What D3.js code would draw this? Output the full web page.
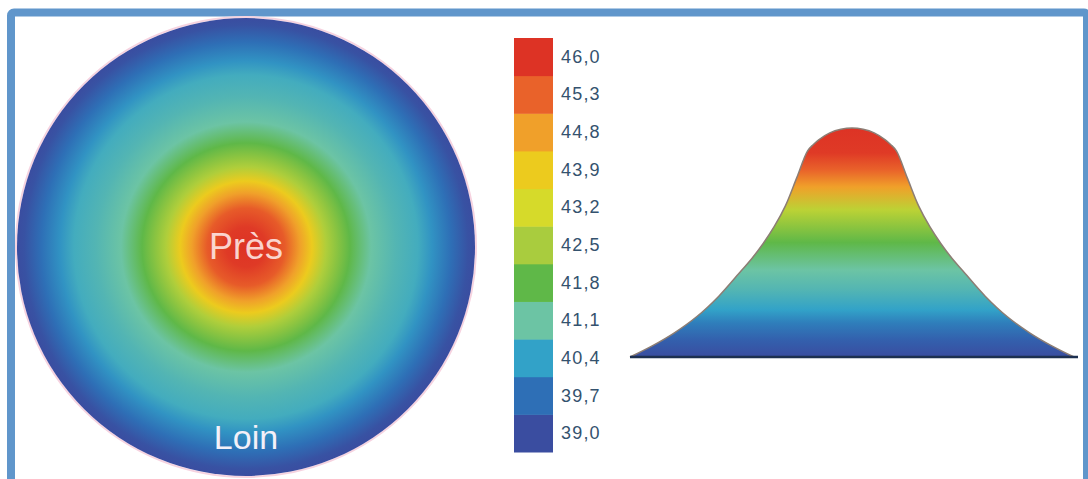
<!DOCTYPE html>
<html>
<head>
<meta charset="utf-8">
<script src="https://cdn.jsdelivr.net/npm/d3@7"></script>
<style>
    body { margin: 0; background: #fff; }
    svg { display: block; font-family: 'Liberation Sans', Arial, sans-serif; }
</style>
</head>
<body>
<div id="chart"></div>
<script>
// legend levels (bottom to top) and their colours
var levels = [39.0, 39.7, 40.4, 41.1, 41.8, 42.5, 43.2, 43.9, 44.8, 45.3, 46.0];
var levelColors = [
    '#3a4da0',
    '#2e6fb6',
    '#32a2c8',
    '#6cc4a4',
    '#5fb848',
    '#a9cc3e',
    '#d6da2a',
    '#eccb1e',
    '#f0a02a',
    '#e9622a',
    '#dd3325'
];
var levelLabels = ['39,0', '39,7', '40,4', '41,1', '41,8', '42,5', '43,2', '43,9', '44,8', '45,3', '46,0'];

// top view: distance from centre (0 = centre, 1 = rim) -> level
var ringPos = [0, 0.087, 0.17, 0.236, 0.288, 0.35, 0.454, 0.546, 0.655, 0.751, 0.812, 0.895, 0.969, 1];
var ringLevel = [46.0, 45.9, 45.4, 44.8, 43.9, 42.6, 41.8, 41.1, 40.8, 40.6, 40.2, 39.7, 39.1, 38.9];

// side profile: position across the lens -> height
var profilePos = [-1, -0.9, -0.8, -0.7, -0.6, -0.5, -0.45, -0.4, -0.35, -0.3, -0.25, -0.2, -0.175, -0.15, -0.1, -0.05, 0,
    0.05, 0.1, 0.15, 0.175, 0.2, 0.25, 0.3, 0.35, 0.4, 0.45, 0.5, 0.6, 0.7, 0.8, 0.9, 1];
var profileVal = [39.0, 39.34, 39.74, 40.23, 40.86, 41.63, 42.02, 42.47, 42.99, 43.62, 44.46, 45.3, 45.49, 45.64, 45.85, 45.96, 46.0,
    45.96, 45.85, 45.64, 45.49, 45.3, 44.46, 43.62, 42.99, 42.47, 42.02, 41.63, 40.86, 40.23, 39.74, 39.34, 39.0];

// shading of the profile: height -> level colour
var shadeHeight = [46.0, 45.24, 44.72, 44.2, 43.5, 42.5, 41.66, 41.05, 40.44, 40.04, 39.52, 39.0];
var shadeLevel = [46.0, 45.9, 45.3, 44.8, 42.8, 41.8, 41.1, 40.8, 40.4, 39.9, 39.4, 39.0];

var W = 1088,
    H = 479;

var color = d3.scaleLinear().domain(levels).range(levelColors).clamp(true);

var svg = d3
    .select('#chart')
    .append('svg')
    .attr('width', W)
    .attr('height', H);

var defs = svg.append('defs');

// frame
svg.append('rect')
    .attr('x', 11)
    .attr('y', 12.5)
    .attr('width', 1076)
    .attr('height', 500)
    .attr('rx', 3)
    .attr('fill', '#fff')
    .attr('stroke', '#6096cb')
    .attr('stroke-width', 8);

// ---- top view disc ----
var cx = 246,
    cy = 247,
    R = 229;
var rScale = d3.scaleLinear().domain([0, 1]).range([0, R]);

var radial = defs
    .append('radialGradient')
    .attr('id', 'disc')
    .attr('gradientUnits', 'userSpaceOnUse')
    .attr('cx', cx)
    .attr('cy', cy)
    .attr('r', R);

radial
    .selectAll('stop')
    .data(ringPos)
    .enter()
    .append('stop')
    .attr('offset', d => rScale(d) / R)
    .attr('stop-color', (d, i) => color(ringLevel[i]));

svg.append('circle')
    .attr('cx', cx)
    .attr('cy', cy)
    .attr('r', R + 1)
    .attr('fill', 'none')
    .attr('stroke', '#f6d3e0')
    .attr('stroke-width', 2);

svg.append('circle')
    .attr('cx', cx)
    .attr('cy', cy)
    .attr('r', R)
    .attr('fill', 'url(#disc)');

svg.append('text')
    .attr('x', cx)
    .attr('y', cy + 12)
    .attr('text-anchor', 'middle')
    .attr('font-size', 36)
    .attr('fill', '#fff0ee')
    .attr('fill-opacity', 0.85)
    .text('Près');

svg.append('text')
    .attr('x', cx)
    .attr('y', 449)
    .attr('text-anchor', 'middle')
    .attr('font-size', 34)
    .attr('fill', '#f4f0f8')
    .text('Loin');

// ---- legend ----
var band = d3
    .scaleBand()
    .domain(levelLabels.slice().reverse())
    .range([38, 452]);

var legend = svg.append('g');

legend
    .selectAll('rect')
    .data(levels)
    .enter()
    .append('rect')
    .attr('x', 514)
    .attr('y', (d, i) => band(levelLabels[i]))
    .attr('width', 39)
    .attr('height', band.bandwidth() + 0.5)
    .attr('fill', (d, i) => levelColors[i]);

legend
    .selectAll('text')
    .data(levelLabels)
    .enter()
    .append('text')
    .attr('x', 561)
    .attr('y', d => band(d) + band.bandwidth() / 2 + 6)
    .attr('font-size', 18)
    .attr('letter-spacing', 1.2)
    .attr('fill', '#34526e')
    .text(d => d);

// ---- side profile ----
var x = d3.scaleLinear().domain([-1, 1]).range([630, 1074]);
var y = d3.scaleLinear().domain([39, 46]).range([357, 128]);

var vertical = defs
    .append('linearGradient')
    .attr('id', 'bell')
    .attr('gradientUnits', 'userSpaceOnUse')
    .attr('x1', 0)
    .attr('x2', 0)
    .attr('y1', y(46))
    .attr('y2', y(39));

vertical
    .selectAll('stop')
    .data(shadeHeight)
    .enter()
    .append('stop')
    .attr('offset', d => (y(d) - y(46)) / (y(39) - y(46)))
    .attr('stop-color', (d, i) => color(shadeLevel[i]));

var profile = profilePos.map((p, i) => ({ p: p, v: profileVal[i] }));

var area = d3
    .area()
    .x(d => x(d.p))
    .y0(y(39))
    .y1(d => y(d.v))
    .curve(d3.curveCatmullRom.alpha(0.5));

var line = d3
    .line()
    .x(d => x(d.p))
    .y(d => y(d.v))
    .curve(d3.curveCatmullRom.alpha(0.5));

svg.append('path')
    .datum(profile)
    .attr('d', area)
    .attr('fill', 'url(#bell)');

svg.append('path')
    .datum(profile)
    .attr('d', line)
    .attr('fill', 'none')
    .attr('stroke', '#8c7d74')
    .attr('stroke-width', 1.5);

svg.append('line')
    .attr('x1', x(-1))
    .attr('x2', x(1) + 4)
    .attr('y1', y(39))
    .attr('y2', y(39))
    .attr('stroke', '#1d3050')
    .attr('stroke-width', 2.5);
</script>
</body>
</html>
